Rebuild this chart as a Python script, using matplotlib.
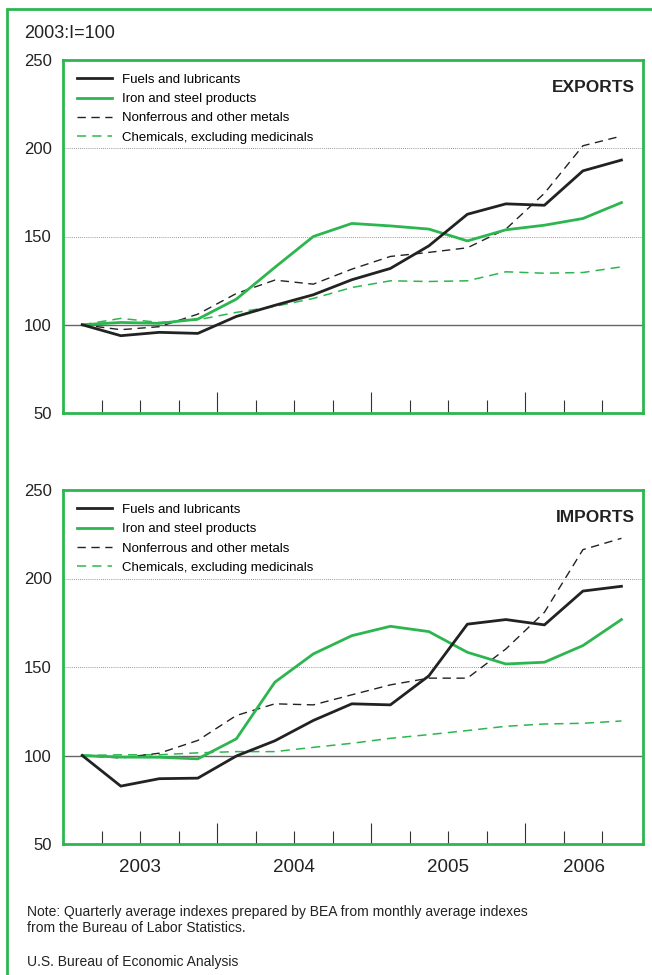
import matplotlib
matplotlib.use("Agg")
import matplotlib.pyplot as plt
from matplotlib.patches import Rectangle
from matplotlib.lines import Line2D

plt.rcParams['font.family'] = ['Liberation Sans', 'DejaVu Sans']

GREEN = '#2db64f'

# quarters 2003:I .. 2006:III
years = ['2003', '2004', '2005', '2006']
series_names = ['Fuels and lubricants', 'Iron and steel products',
                'Nonferrous and other metals', 'Chemicals, excluding medicinals']

exp_fuels = [100, 93.8, 95.7, 95.1, 104.7, 111, 117, 125.5, 131.9, 144.7, 162.6, 168.5, 167.7, 187.2, 193.3]
exp_iron = [100, 101.3, 100.8, 103.2, 114.5, 132.5, 150, 157.4, 156, 154.2, 147.5, 153.8, 156.4, 160.2, 169.2]
exp_nonfer = [100, 97.2, 98.9, 106, 117.7, 125.3, 123, 131.5, 138.7, 141, 143.6, 154.2, 174.5, 201.4, 206.9]
exp_chem = [100, 103.6, 101.3, 102.8, 107, 110.4, 114.9, 121.1, 124.9, 124.5, 124.9, 130, 129.2, 129.6, 132.8]

imp_fuels = [100, 82.7, 86.9, 87.2, 99.7, 108.3, 119.8, 129.2, 128.6, 145, 174.2, 176.8, 173.8, 192.9, 195.6]
imp_iron = [100, 99.1, 99, 98.1, 109.4, 141.4, 157.4, 167.7, 173, 170, 158.3, 151.7, 152.7, 162.1, 176.8]
imp_nonfer = [100, 98.6, 101.3, 108.5, 122.6, 129.2, 128.6, 134.3, 139.9, 143.7, 143.7, 160.2, 180.9, 216.3, 222.7]
imp_chem = [100, 100.4, 100.4, 101.5, 102.2, 102.2, 104.6, 106.9, 109.7, 111.8, 114.1, 116.5, 117.8, 118.2, 119.5]

W, H = 652, 975
fig = plt.figure(figsize=(W / 100, H / 100), dpi=100)

# outer green frame (runs off the right and bottom edges)
fig.patches.append(Rectangle((7 / W, -0.05), 1.0, 1 - 9 / H + 0.05, transform=fig.transFigure,
                             fill=False, edgecolor=GREEN, linewidth=2.0))

XMAX = 15.06
xs = [i + 0.5 for i in range(len(exp_fuels))]


def make_axes(top_px, bottom_px):
    left, right = 63, 643
    return fig.add_axes([left / W, 1 - bottom_px / H, (right - left) / W, (bottom_px - top_px) / H])


def draw_panel(ax, fuels, iron, nonfer, chem, title):
    ax.set_xlim(0, XMAX)
    ax.set_ylim(50, 250)
    for v in (150, 200):
        ax.axhline(v, color='#777777', linestyle=(0, (1, 1.5)), linewidth=0.6, zorder=1)
    ax.axhline(100, color='#666666', linewidth=1.0, zorder=1)

    ax.plot(xs, chem, color=GREEN, linewidth=1.1, dashes=(6, 4), zorder=2)
    ax.plot(xs, nonfer, color='#222222', linewidth=1.0, dashes=(6, 4), zorder=3)
    ax.plot(xs, iron, color=GREEN, linewidth=2.0, zorder=4)
    ax.plot(xs, fuels, color='#222222', linewidth=2.0, zorder=5)

    for s in ax.spines.values():
        s.set_color(GREEN)
        s.set_linewidth(2.0)

    ax.set_yticks([50, 100, 150, 200, 250])
    ax.tick_params(axis='y', length=0, pad=8, labelsize=12, labelcolor='#222222')
    ax.set_xticks([4, 8, 12])
    ax.set_xticks([q for q in range(1, 15) if q % 4], minor=True)
    ax.tick_params(axis='x', which='major', direction='in', length=15, width=0.8,
                   color='#333333', labelbottom=False)
    ax.tick_params(axis='x', which='minor', direction='in', length=9.5, width=0.8,
                   color='#333333', labelbottom=False)

    handles = [Line2D([], [], color='#222222', linewidth=2.0),
               Line2D([], [], color=GREEN, linewidth=2.0),
               Line2D([], [], color='#222222', linewidth=1.0, dashes=(6, 4)),
               Line2D([], [], color=GREEN, linewidth=1.1, dashes=(6, 4))]
    ax.legend(handles, series_names, loc='upper left', bbox_to_anchor=(0.024, 0.961),
              frameon=False, fontsize=9.5, handlelength=2.65, handletextpad=0.75,
              labelspacing=0.53, borderaxespad=0, borderpad=0)
    ax.text(0.986, 0.923, title, transform=ax.transAxes, ha='right', va='center',
            fontsize=12.5, fontweight='bold', color='#222222')


ax1 = make_axes(60, 413)
draw_panel(ax1, exp_fuels, exp_iron, exp_nonfer, exp_chem, 'EXPORTS')
ax2 = make_axes(490, 844)
draw_panel(ax2, imp_fuels, imp_iron, imp_nonfer, imp_chem, 'IMPORTS')

# year labels centred in each year span
for k, y in enumerate(years):
    x0 = 4 * k
    x1 = min(4 * k + 4, XMAX)
    ax2.text((x0 + x1) / 2, -0.065, y, transform=ax2.get_xaxis_transform(),
             ha='center', va='center', fontsize=13.5, color='#222222')

fig.text(24 / W, 1 - 34 / H, '2003:I=100', ha='left', va='center', fontsize=13, color='#222222')
fig.text(27 / W, 1 - 912 / H, 'Note: Quarterly average indexes prepared by BEA from monthly average indexes',
         ha='left', va='center', fontsize=10, color='#222222')
fig.text(27 / W, 1 - 928 / H, 'from the Bureau of Labor Statistics.',
         ha='left', va='center', fontsize=10, color='#222222')
fig.text(27 / W, 1 - 962 / H, 'U.S. Bureau of Economic Analysis',
         ha='left', va='center', fontsize=10, color='#222222')

fig.savefig('out.png', dpi=100)
